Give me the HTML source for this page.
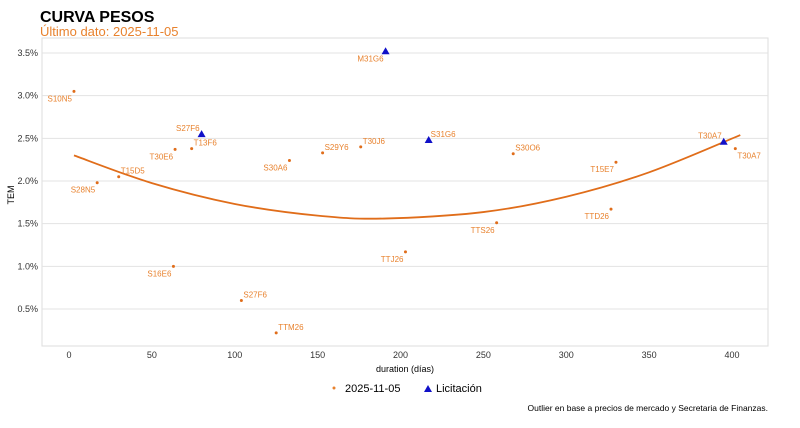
<!DOCTYPE html>
<html><head><meta charset="utf-8"><style>
body{margin:0;background:#fff;width:800px;height:423px;overflow:hidden;font-family:"Liberation Sans",sans-serif}
</style></head><body>
<svg id="c" width="800" height="423" xmlns="http://www.w3.org/2000/svg" font-family="Liberation Sans, sans-serif">
<text x="40" y="22" font-size="16" font-weight="bold" fill="#000">CURVA PESOS</text>
<text x="40" y="36" font-size="13" fill="#e8822e">Último dato: 2025-11-05</text>
<rect x="42" y="38" width="726" height="308" fill="#fff" stroke="#ddd"/>
<g id="grid"></g><g id="marks"></g>
<text transform="translate(14,195) rotate(-90)" text-anchor="middle" font-size="9" fill="#000">TEM</text>
<text x="405" y="372" text-anchor="middle" font-size="9" fill="#000">duration (días)</text>
<g>
<circle cx="334" cy="388" r="1.5" fill="#e8822e"/>
<text x="345" y="392" font-size="11">2025-11-05</text>
<polygon points="424,392 432,392 428,385" fill="#1010c8"/>
<text x="436" y="392" font-size="11">Licitación</text>
</g>
<text x="768" y="411" text-anchor="end" font-size="8.5" fill="#000">Outlier en base a precios de mercado y Secretaria de Finanzas.</text>
</svg>
<script>
const names=["S10N5","S28N5","T15D5","S16E6","T30E6","T13F6","S27F6","TTM26","S30A6","S29Y6","T30J6","TTJ26","TTS26","S30O6","T15E7","TTD26","T30A7"];
const durations=[3,17,30,63,64,74,104,125,133,153,176,203,258,268,330,327,402];
const tems=[3.05,1.98,2.05,1.0,2.37,2.38,0.6,0.22,2.24,2.33,2.40,1.17,1.51,2.32,2.22,1.67,2.38];
const licNames=["S27F6","M31G6","S31G6","T30A7"];
const licDurations=[80,191,217,395];
const licTems=[2.55,3.52,2.48,2.46];
const curveX=[3,50,100,150,190,250,300,350,405];
const curveY=[2.30,1.975,1.731,1.594,1.56,1.636,1.816,2.102,2.538];
const xTicks=[0,50,100,150,200,250,300,350,400];
const yTicks=[0.5,1.0,1.5,2.0,2.5,3.0,3.5];
// label placement: [dx, dy, anchor] (style only)
const lblPos=[[-2,10,"end"],[-2,10,"end"],[2,-3,"start"],[-2,10,"end"],[-2,10,"end"],[2,-3,"start"],[2,-3,"start"],[2,-3,"start"],[-2,10,"end"],[2,-3,"start"],[2,-3,"start"],[-2,10,"end"],[-2,10,"end"],[2,-3,"start"],[-2,10,"end"],[-2,10,"end"],[2,10,"start"]];
const licPos=[[-2,-3,"end"],[-2,10,"end"],[2,-3,"start"],[-2,-3,"end"]];
const X=d=>69+d*1.6575;
const Y=v=>53+(3.5-v)*85.33;
const NS="http://www.w3.org/2000/svg";
function mk(t,a,p){const e=document.createElementNS(NS,t);for(const k in a)e.setAttribute(k,a[k]);p.appendChild(e);return e;}
const grid=document.getElementById('grid'),marks=document.getElementById('marks');
yTicks.forEach(v=>{
 const l=mk('line',{x1:42,x2:768,y1:Y(v),y2:Y(v),stroke:'#e3e3e3'},grid);
 
 
 const t=mk('text',{x:38,y:Y(v)+3,'text-anchor':'end','font-size':9,fill:'#333'},grid);
 t.textContent=v.toFixed(1)+'%';
 
 
});
xTicks.forEach(v=>{
 const t=mk('text',{x:X(v),y:358,'text-anchor':'middle','font-size':9,fill:'#333'},grid);
 t.textContent=v;
 
 
});
// smooth curve (Catmull-Rom)
const pts=curveX.map((x,i)=>[X(x),Y(curveY[i])]);
let d='M'+pts[0][0]+','+pts[0][1];
for(let i=0;i<pts.length-1;i++){const p0=pts[i-1]||pts[i],p1=pts[i],p2=pts[i+1],p3=pts[i+2]||p2;
 d+=` C${p1[0]+(p2[0]-p0[0])/6},${p1[1]+(p2[1]-p0[1])/6} ${p2[0]-(p3[0]-p1[0])/6},${p2[1]-(p3[1]-p1[1])/6} ${p2[0]},${p2[1]}`;}
const cv=mk('path',{d:d,fill:'none',stroke:'#e06d1a','stroke-width':1.8},marks);


names.forEach((n,i)=>{
 const x=X(durations[i]),y=Y(tems[i]);
 const c=mk('circle',{cx:x,cy:y,r:1.5,fill:'#e06d1a'},marks);
 
 
 const p=lblPos[i];
 const t=mk('text',{x:x+p[0],y:y+p[1],'text-anchor':p[2],'font-size':8,fill:'#e8822e'},marks);
 t.textContent=n;
 
 
});
licNames.forEach((n,i)=>{
 const x=X(licDurations[i]),y=Y(licTems[i]);
 const tr=mk('polygon',{points:`${x-4},${y+3} ${x+4},${y+3} ${x},${y-4}`,fill:'#1010c8'},marks);
 
 
 const p=licPos[i];
 const t=mk('text',{x:x+p[0],y:y+p[1],'text-anchor':p[2],'font-size':8,fill:'#e8822e'},marks);
 t.textContent=n;
 
 
});
</script>
</body></html>
